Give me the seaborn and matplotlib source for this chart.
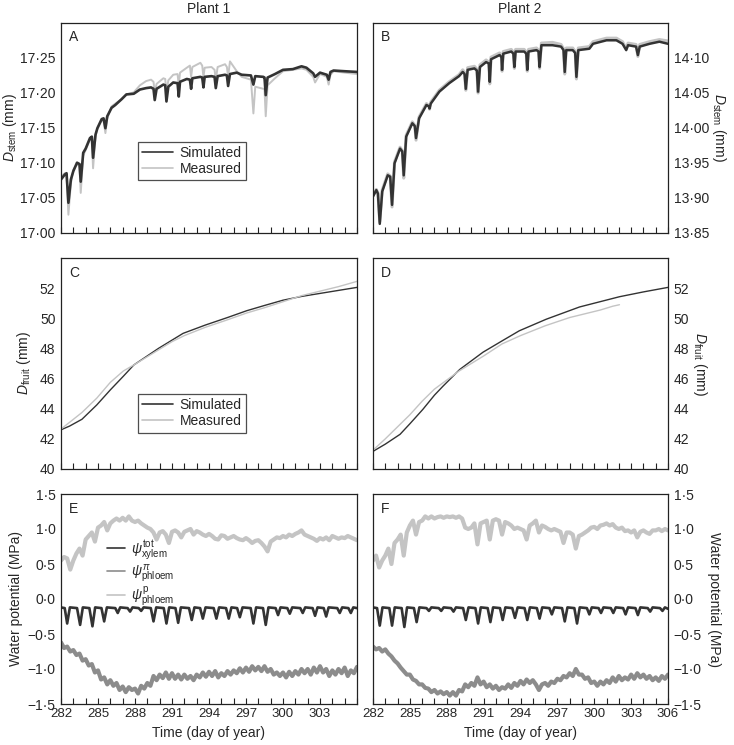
import numpy as np
import pandas as pd
import matplotlib
matplotlib.use("Agg")
import matplotlib.pyplot as plt
import seaborn as sns
from matplotlib.ticker import FuncFormatter, MultipleLocator, FixedLocator
from matplotlib.lines import Line2D

# ---------------- data ----------------
A_sim_t = [282.0, 282.3, 282.45, 282.6, 282.8, 283.0, 283.3, 283.5, 283.6, 283.8, 284.0, 284.35, 284.5, 284.6, 284.8,
           284.95, 285.3, 285.45, 285.6, 285.75, 286.1, 286.4, 286.9, 287.3, 287.9, 288.4, 288.9, 289.3, 289.5, 289.6,
           289.75, 290.3, 290.45, 290.55, 290.7, 291.1, 291.45, 291.55, 291.65, 292.2, 292.45, 292.55, 292.65, 293.3,
           293.45, 293.55, 293.65, 294.2, 294.45, 294.55, 294.7, 295.3, 295.45, 295.55, 295.7, 296.25, 296.65, 297.4,
           297.6, 297.75, 298.4, 298.5, 298.6, 298.75, 299.35, 300.0, 300.8, 301.5, 301.9, 302.45, 302.6, 303.0,
           303.55, 303.7, 303.85, 304.1, 305.0, 306.0]
A_sim_v = [17.076, 17.083, 17.085, 17.043, 17.076, 17.088, 17.100, 17.098, 17.073, 17.114, 17.120, 17.135, 17.137,
           17.107, 17.140, 17.149, 17.162, 17.163, 17.149, 17.166, 17.178, 17.182, 17.190, 17.197, 17.198, 17.204,
           17.206, 17.207, 17.205, 17.189, 17.205, 17.211, 17.210, 17.187, 17.208, 17.214, 17.213, 17.194, 17.215,
           17.219, 17.218, 17.205, 17.220, 17.222, 17.221, 17.207, 17.222, 17.223, 17.222, 17.206, 17.223, 17.225,
           17.224, 17.209, 17.226, 17.228, 17.225, 17.224, 17.211, 17.223, 17.222, 17.221, 17.196, 17.221, 17.226,
           17.232, 17.233, 17.237, 17.235, 17.227, 17.222, 17.228, 17.225, 17.218, 17.229, 17.231, 17.230, 17.229]
A_meas_v = [17.080, 17.085, 17.083, 17.026, 17.070, 17.090, 17.098, 17.095, 17.057, 17.110, 17.118, 17.133, 17.134,
            17.092, 17.138, 17.148, 17.160, 17.160, 17.142, 17.163, 17.180, 17.184, 17.190, 17.197, 17.200, 17.210,
            17.216, 17.218, 17.215, 17.200, 17.212, 17.220, 17.219, 17.200, 17.217, 17.225, 17.226, 17.210, 17.228,
            17.235, 17.238, 17.222, 17.236, 17.242, 17.238, 17.222, 17.235, 17.236, 17.232, 17.218, 17.236, 17.240,
            17.236, 17.222, 17.244, 17.230, 17.222, 17.218, 17.170, 17.208, 17.205, 17.204, 17.166, 17.210, 17.220,
            17.230, 17.232, 17.234, 17.232, 17.222, 17.214, 17.226, 17.222, 17.211, 17.225, 17.230, 17.228, 17.226]

B_t = [282.0, 282.27, 282.4, 282.55, 282.75, 283.2, 283.4, 283.55, 283.75, 284.2, 284.38, 284.5, 284.7, 285.2, 285.4,
       285.5, 285.75, 286.35, 286.55, 286.6, 286.7, 287.4, 288.2, 289.0, 289.3, 289.45, 289.55, 289.7, 290.25, 290.45,
       290.55, 290.7, 291.2, 291.42, 291.5, 291.6, 292.3, 292.45, 292.5, 292.6, 293.25, 293.42, 293.5, 293.6, 294.3,
       294.47, 294.55, 294.65, 295.3, 295.47, 295.55, 295.7, 296.6, 297.3, 297.5, 297.6, 297.72, 298.25, 298.45,
       298.55, 298.7, 299.6, 299.9, 301.0, 301.8, 302.3, 302.6, 302.75, 303.4, 303.55, 303.7, 304.5, 305.3, 306.0]
B_sim_v = [13.902, 13.911, 13.906, 13.863, 13.909, 13.932, 13.930, 13.890, 13.949, 13.970, 13.966, 13.932, 13.987,
           14.006, 14.002, 13.985, 14.013, 14.032, 14.030, 14.027, 14.034, 14.051, 14.063, 14.073, 14.079, 14.076,
           14.055, 14.082, 14.084, 14.081, 14.051, 14.086, 14.093, 14.091, 14.065, 14.097, 14.103, 14.100, 14.082,
           14.105, 14.108, 14.105, 14.086, 14.108, 14.108, 14.105, 14.082, 14.108, 14.110, 14.108, 14.086, 14.117,
           14.117, 14.115, 14.110, 14.079, 14.110, 14.110, 14.106, 14.072, 14.110, 14.112, 14.119, 14.124, 14.124,
           14.119, 14.110, 14.117, 14.115, 14.103, 14.115, 14.119, 14.122, 14.119]
B_meas_v = [13.903, 13.912, 13.907, 13.866, 13.911, 13.934, 13.931, 13.887, 13.951, 13.972, 13.967, 13.928, 13.989,
            14.008, 14.003, 13.982, 14.015, 14.034, 14.031, 14.026, 14.036, 14.053, 14.065, 14.075, 14.082, 14.078,
            14.053, 14.085, 14.087, 14.083, 14.049, 14.089, 14.096, 14.093, 14.062, 14.100, 14.106, 14.102, 14.080,
            14.108, 14.111, 14.107, 14.084, 14.111, 14.111, 14.107, 14.080, 14.111, 14.113, 14.110, 14.084, 14.120,
            14.121, 14.118, 14.112, 14.076, 14.113, 14.113, 14.108, 14.069, 14.113, 14.115, 14.122, 14.127, 14.127,
            14.122, 14.112, 14.120, 14.118, 14.101, 14.118, 14.122, 14.125, 14.123]

C_sim_t = [282.0, 282.7, 283.7, 284.9, 286.0, 287.05, 287.9, 288.9, 289.9, 291.0, 291.9, 293.7, 295.5, 297.05, 298.5,
           300.0, 301.5, 303.0, 304.5, 306.0]
C_sim_v = [42.6, 42.85, 43.3, 44.25, 45.25, 46.15, 46.9, 47.45, 48.0, 48.55, 49.0, 49.55, 50.05, 50.5, 50.85, 51.2,
           51.45, 51.65, 51.85, 52.05]
C_meas_t = [282.0, 282.7, 283.7, 284.9, 286.0, 287.05, 288.0, 288.9, 289.9, 291.0, 292.0, 293.7, 295.5, 297.05, 298.5,
            300.0, 301.5, 303.0, 304.5, 306.0]
C_meas_v = [42.65, 43.1, 43.75, 44.7, 45.75, 46.5, 46.95, 47.4, 47.9, 48.45, 48.85, 49.4, 49.9, 50.35, 50.7, 51.1,
            51.5, 51.8, 52.1, 52.45]

D_sim_t = [282.0, 283.0, 284.2, 285.0, 286.05, 287.0, 287.7, 289.05, 290.95, 292.5, 293.9, 296.1, 298.8, 302.05,
           304.0, 306.0]
D_sim_v = [41.17, 41.65, 42.3, 43.0, 43.95, 44.9, 45.5, 46.6, 47.75, 48.5, 49.17, 49.94, 50.75, 51.43, 51.75, 52.05]
D_meas_t = [282.0, 283.0, 284.0, 285.0, 286.0, 287.0, 288.0, 289.0, 290.0, 291.0, 292.5, 294.0, 296.0, 298.0, 299.5,
            300.5, 301.5, 302.05]
D_meas_v = [41.25, 42.0, 42.8, 43.6, 44.5, 45.3, 45.9, 46.5, 47.0, 47.5, 48.3, 48.85, 49.5, 50.05, 50.35, 50.55,
            50.8, 50.9]

E_xyl_t = [282.0, 282.3, 282.5, 282.72, 283.3, 283.55, 283.77, 284.3, 284.55, 284.77, 285.28, 285.5, 285.72, 286.4,
           286.6, 286.8, 287.4, 287.6, 287.8, 288.3, 288.5, 288.7, 289.28, 289.5, 289.72, 290.33, 290.55, 290.77,
           291.28, 291.5, 291.72, 292.38, 292.6, 292.82, 293.28, 293.5, 293.72, 294.38, 294.6, 294.82, 295.38, 295.6,
           295.82, 296.28, 296.5, 296.72, 297.38, 297.6, 297.82, 298.38, 298.6, 298.82, 299.4, 299.6, 299.8, 300.35,
           300.55, 300.75, 301.4, 301.6, 301.8, 302.4, 302.6, 302.8, 303.3, 303.5, 303.7, 304.4, 304.6, 304.8, 305.3,
           305.5, 305.7, 306.0]
E_xyl_v = [-0.12, -0.13, -0.35, -0.12, -0.13, -0.37, -0.12, -0.13, -0.39, -0.12, -0.13, -0.32, -0.12, -0.13, -0.20,
           -0.12, -0.13, -0.18, -0.12, -0.13, -0.17, -0.12, -0.13, -0.32, -0.12, -0.13, -0.35, -0.12, -0.13, -0.34,
           -0.12, -0.13, -0.30, -0.12, -0.13, -0.28, -0.12, -0.13, -0.28, -0.12, -0.13, -0.28, -0.12, -0.13, -0.26,
           -0.12, -0.13, -0.35, -0.12, -0.13, -0.37, -0.12, -0.13, -0.23, -0.12, -0.13, -0.21, -0.12, -0.13, -0.20,
           -0.12, -0.13, -0.24, -0.12, -0.13, -0.25, -0.12, -0.13, -0.20, -0.12, -0.13, -0.20, -0.12, -0.13]

F_xyl_t = [282.0, 282.33, 282.55, 282.77, 283.33, 283.55, 283.77, 284.33, 284.55, 284.77, 285.33, 285.55, 285.77,
           286.35, 286.55, 286.75, 287.35, 287.55, 287.75, 288.35, 288.55, 288.75, 289.33, 289.55, 289.77, 290.33,
           290.55, 290.77, 291.33, 291.55, 291.77, 292.33, 292.55, 292.77, 293.33, 293.55, 293.77, 294.33, 294.55,
           294.77, 295.33, 295.55, 295.77, 296.35, 296.55, 296.75, 297.38, 297.6, 297.82, 298.38, 298.6, 298.82,
           299.4, 299.6, 299.8, 300.35, 300.55, 300.75, 301.35, 301.55, 301.75, 302.35, 302.55, 302.75, 303.35,
           303.55, 303.75, 304.35, 304.55, 304.75, 305.35, 305.55, 305.75, 306.0]
F_xyl_v = [-0.12, -0.13, -0.38, -0.12, -0.13, -0.38, -0.12, -0.13, -0.40, -0.12, -0.13, -0.33, -0.12, -0.13, -0.17,
           -0.12, -0.13, -0.17, -0.12, -0.13, -0.18, -0.12, -0.13, -0.30, -0.12, -0.13, -0.35, -0.12, -0.13, -0.33,
           -0.12, -0.13, -0.30, -0.12, -0.13, -0.27, -0.12, -0.13, -0.30, -0.12, -0.13, -0.28, -0.12, -0.13, -0.22,
           -0.12, -0.13, -0.32, -0.12, -0.13, -0.35, -0.12, -0.13, -0.22, -0.12, -0.13, -0.20, -0.12, -0.13, -0.20,
           -0.12, -0.13, -0.22, -0.12, -0.13, -0.23, -0.12, -0.13, -0.18, -0.12, -0.13, -0.17, -0.12, -0.14]

PHL_T = [282.0, 282.25, 282.5, 282.75, 283.0, 283.25, 283.5, 283.75, 284.0, 284.25, 284.5, 284.75, 285.0, 285.25,
         285.5, 285.75, 286.0, 286.25, 286.5, 286.75, 287.0, 287.25, 287.5, 287.75, 288.0, 288.25, 288.5, 288.75,
         289.0, 289.25, 289.5, 289.75, 290.0, 290.25, 290.5, 290.75, 291.0, 291.25, 291.5, 291.75, 292.0, 292.25,
         292.5, 292.75, 293.0, 293.25, 293.5, 293.75, 294.0, 294.25, 294.5, 294.75, 295.0, 295.25, 295.5, 295.75,
         296.0, 296.25, 296.5, 296.75, 297.0, 297.25, 297.5, 297.75, 298.0, 298.25, 298.5, 298.75, 299.0, 299.25,
         299.5, 299.75, 300.0, 300.25, 300.5, 300.75, 301.0, 301.25, 301.5, 301.75, 302.0, 302.25, 302.5, 302.75,
         303.0, 303.25, 303.5, 303.75, 304.0, 304.25, 304.5, 304.75, 305.0, 305.25, 305.5, 305.75, 306.0]

E_osm_v = [-0.62, -0.70, -0.68, -0.75, -0.73, -0.80, -0.78, -0.88, -0.86, -0.95, -0.93, -1.05, -1.02, -1.15, -1.12,
           -1.22, -1.16, -1.24, -1.20, -1.30, -1.25, -1.33, -1.26, -1.30, -1.28, -1.35, -1.24, -1.28, -1.20, -1.24,
           -1.10, -1.16, -1.08, -1.13, -1.05, -1.14, -1.06, -1.14, -1.08, -1.15, -1.08, -1.14, -1.10, -1.16, -1.08,
           -1.12, -1.05, -1.11, -1.04, -1.10, -1.03, -1.12, -1.06, -1.10, -1.03, -1.08, -1.02, -1.06, -0.99, -1.05,
           -0.98, -1.04, -0.96, -1.02, -0.97, -1.03, -0.96, -1.04, -1.00, -1.08, -1.05, -1.10, -1.05, -1.12, -1.04,
           -1.10, -1.03, -1.08, -1.00, -1.06, -1.00, -1.08, -0.98, -1.05, -0.96, -1.05, -1.00, -1.10, -1.02, -1.08,
           -1.00, -1.06, -0.98, -1.10, -1.02, -1.06, -0.97]
E_prs_v = [0.55, 0.60, 0.58, 0.42, 0.55, 0.65, 0.72, 0.62, 0.85, 0.90, 0.95, 0.82, 1.02, 1.05, 1.10, 0.98, 1.08,
           1.12, 1.15, 1.12, 1.16, 1.12, 1.18, 1.12, 1.10, 1.12, 1.08, 1.05, 1.02, 1.00, 0.95, 0.85, 0.95, 0.97,
           0.92, 0.80, 0.96, 0.98, 0.95, 0.88, 0.96, 0.98, 1.00, 0.92, 0.97, 0.95, 0.92, 0.90, 0.93, 0.90, 0.86,
           0.85, 0.91, 0.90, 0.86, 0.88, 0.90, 0.87, 0.85, 0.84, 0.87, 0.84, 0.80, 0.83, 0.84, 0.80, 0.75, 0.68,
           0.82, 0.85, 0.88, 0.87, 0.90, 0.88, 0.92, 0.90, 0.93, 0.95, 0.98, 0.92, 0.90, 0.88, 0.86, 0.83, 0.87,
           0.85, 0.88, 0.84, 0.90, 0.88, 0.86, 0.88, 0.87, 0.90, 0.88, 0.86, 0.84]
F_osm_v = [-0.68, -0.72, -0.70, -0.75, -0.72, -0.78, -0.82, -0.88, -0.92, -0.98, -1.03, -1.08, -1.08, -1.15, -1.17,
           -1.22, -1.22, -1.27, -1.28, -1.33, -1.30, -1.35, -1.32, -1.36, -1.33, -1.38, -1.33, -1.38, -1.30, -1.32,
           -1.22, -1.26, -1.20, -1.24, -1.12, -1.22, -1.18, -1.26, -1.22, -1.28, -1.24, -1.30, -1.26, -1.28, -1.22,
           -1.27, -1.20, -1.24, -1.17, -1.22, -1.15, -1.20, -1.16, -1.22, -1.30, -1.22, -1.20, -1.24, -1.18, -1.20,
           -1.14, -1.16, -1.10, -1.12, -1.06, -1.10, -1.00, -1.08, -1.08, -1.14, -1.12, -1.20, -1.18, -1.24, -1.18,
           -1.22, -1.16, -1.20, -1.12, -1.18, -1.10, -1.16, -1.12, -1.15, -1.08, -1.14, -1.06, -1.12, -1.08, -1.14,
           -1.10, -1.16, -1.12, -1.17, -1.10, -1.14, -1.08]
F_prs_v = [0.55, 0.62, 0.45, 0.55, 0.62, 0.72, 0.50, 0.80, 0.85, 0.92, 0.62, 0.95, 1.05, 1.12, 0.92, 1.10, 1.12,
           1.18, 1.15, 1.18, 1.15, 1.17, 1.18, 1.16, 1.18, 1.17, 1.18, 1.16, 1.18, 1.15, 1.02, 1.00, 1.02, 1.08,
           0.78, 1.08, 1.10, 1.12, 0.85, 1.12, 1.14, 1.12, 0.92, 1.10, 1.08, 1.05, 1.00, 1.02, 1.00, 0.98, 0.85,
           1.05, 1.08, 1.12, 0.95, 1.05, 1.03, 1.00, 0.98, 1.00, 0.98, 0.96, 0.80, 0.95, 0.95, 0.92, 0.72, 0.90,
           0.92, 0.95, 0.98, 1.02, 1.03, 1.00, 1.05, 1.06, 1.08, 1.05, 1.07, 1.02, 1.00, 1.02, 0.97, 0.98, 0.95,
           0.98, 0.88, 0.96, 0.98, 0.95, 0.93, 0.98, 0.98, 1.00, 0.97, 1.00, 0.98]

X_TICKS = [282, 285, 288, 291, 294, 297, 300, 303, 306]
LEG_SIM = ["Simulated", "Measured"]
LEG_PSI = [r"$\psi^{\rm tot}_{\rm xylem}$", r"$\psi^{\pi}_{\rm phloem}$", r"$\psi^{\rm p}_{\rm phloem}$"]
TITLES = ["Plant 1", "Plant 2"]

# ---------------- style ----------------
sns.set_style("ticks")
plt.rcParams["font.family"] = ["Liberation Sans", "DejaVu Sans"]
plt.rcParams["mathtext.fontset"] = "custom"
plt.rcParams["mathtext.rm"] = "Liberation Sans"
plt.rcParams["mathtext.it"] = "Liberation Sans:italic"
plt.rcParams["mathtext.bf"] = "Liberation Sans:bold"
plt.rcParams["axes.edgecolor"] = "#222222"
plt.rcParams["axes.linewidth"] = 0.9
FS = 10
C_DARK = "#333333"
C_MID = "#8c8c8c"
C_LIGHT = "#c4c4c4"

W, H = 734, 745
fig = plt.figure(figsize=(W / 100, H / 100), dpi=100)


def box(x0, top, x1, bottom):
    return [x0 / W, 1 - bottom / H, (x1 - x0) / W, (bottom - top) / H]


cols = [(61, 357), (373, 668)]
rows = [(22.7, 233), (258, 469), (494, 704)]
axes = [[fig.add_axes(box(c[0], r[0], c[1], r[1])) for c in cols] for r in rows]


def dotfmt(dec):
    def f(v, pos):
        if abs(v) < 1e-9:
            v = 0.0
        s = f"{v:.{dec}f}".replace(".", "\u00b7").replace("-", "\u2212")
        return s
    return FuncFormatter(f)


def line(ax, t, v, color, lw):
    df = pd.DataFrame({"t": t, "v": v})
    sns.lineplot(data=df, x="t", y="v", ax=ax, color=color, lw=lw, estimator=None, sort=False)


# Row 1
line(axes[0][0], A_sim_t, A_meas_v, C_LIGHT, 1.4)
line(axes[0][0], A_sim_t, A_sim_v, C_DARK, 1.9)
line(axes[0][1], B_t, B_meas_v, C_LIGHT, 2.2)
line(axes[0][1], B_t, B_sim_v, C_DARK, 1.8)
# Row 2
line(axes[1][0], C_sim_t, C_sim_v, C_DARK, 1.0)
line(axes[1][0], C_meas_t, C_meas_v, C_LIGHT, 1.0)
line(axes[1][1], D_sim_t, D_sim_v, C_DARK, 1.0)
line(axes[1][1], D_meas_t, D_meas_v, C_LIGHT, 1.0)
# Row 3
for ax, prs, osm, xt, xv in [(axes[2][0], E_prs_v, E_osm_v, E_xyl_t, E_xyl_v),
                             (axes[2][1], F_prs_v, F_osm_v, F_xyl_t, F_xyl_v)]:
    line(ax, PHL_T, prs, C_LIGHT, 3.0)
    line(ax, PHL_T, osm, C_MID, 3.0)
    line(ax, xt, xv, C_DARK, 1.9)

ylims = [(17.0, 17.299), (13.85, 14.149)], [(40, 54), (40, 54)], [(-1.5, 1.5), (-1.5, 1.5)]
yticks = [[17.0, 17.05, 17.1, 17.15, 17.2, 17.25], [13.85, 13.9, 13.95, 14.0, 14.05, 14.1]], \
         [[40, 42, 44, 46, 48, 50, 52]] * 2, [[-1.5, -1.0, -0.5, 0.0, 0.5, 1.0, 1.5]] * 2
decs = [2, 0, 1]
letters = [["A", "B"], ["C", "D"], ["E", "F"]]
ylabels = [r"$D_{\rm stem}$ (mm)", r"$D_{\rm fruit}$ (mm)", "Water potential (MPa)"]
lpads = [1, 5, 3]

for r in range(3):
    for c in range(2):
        ax = axes[r][c]
        ax.set_xlim(282, 306)
        ax.set_ylim(*ylims[r][c])
        ax.yaxis.set_major_locator(FixedLocator(yticks[r][c]))
        ax.yaxis.set_major_formatter(dotfmt(decs[r]))
        ax.xaxis.set_major_locator(FixedLocator(X_TICKS))
        ax.xaxis.set_minor_locator(MultipleLocator(1))
        ax.tick_params(axis="x", which="both", direction="in", length=4, width=0.8, color="#222222",
                       labelsize=FS - 0.5, pad=3)
        ax.tick_params(axis="y", which="both", length=0, labelsize=FS, pad=4)
        for s in ax.spines.values():
            s.set_visible(True)
        if r < 2:
            ax.set_xticklabels([])
            ax.set_xlabel("")
        else:
            labs = [str(x) for x in X_TICKS]
            if c == 0:
                labs[-1] = ""
            ax.set_xticklabels(labs)
            ax.set_xlabel("Time (day of year)", fontsize=FS, labelpad=4)
        ax.set_ylabel(ylabels[r], fontsize=FS, labelpad=lpads[r])
        if c == 1:
            ax.yaxis.tick_right()
            ax.yaxis.set_label_position("right")
            ax.set_ylabel(ylabels[r], fontsize=FS, rotation=270, labelpad=14)
        ax.text(0.027, 0.93, letters[r][c], transform=ax.transAxes, fontsize=FS, va="center", ha="left")

# legends
for ax, anchor in [(axes[0][0], (0.26, 0.435)), (axes[1][0], (0.26, 0.355))]:
    h = [Line2D([], [], color=C_DARK, lw=1.2), Line2D([], [], color=C_LIGHT, lw=1.2)]
    leg = ax.legend(h, LEG_SIM, loc="upper left", bbox_to_anchor=anchor, fontsize=FS, frameon=True, fancybox=False,
                    handlelength=2.2, handletextpad=0.5, borderpad=0.3, labelspacing=0.15, borderaxespad=0)
    leg.get_frame().set_edgecolor("#222222")
    leg.get_frame().set_linewidth(0.9)

hp = [Line2D([], [], color=C_DARK, lw=1.2), Line2D([], [], color=C_MID, lw=1.2), Line2D([], [], color=C_LIGHT, lw=1.2)]
axes[2][0].legend(hp, LEG_PSI, loc="upper left", bbox_to_anchor=(0.155, 0.79), fontsize=FS, frameon=False,
                  handlelength=1.3, handletextpad=0.45, labelspacing=0.02, borderaxespad=0, borderpad=0)

fig.text(209 / W, 1 - 9 / H, TITLES[0], ha="center", va="center", fontsize=FS)
fig.text(520 / W, 1 - 9 / H, TITLES[1], ha="center", va="center", fontsize=FS)

fig.savefig("out.png", dpi=100)
